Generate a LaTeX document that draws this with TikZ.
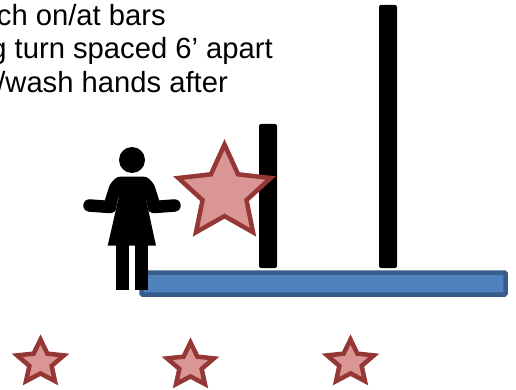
\documentclass[tikz,border=0pt]{standalone}
\usepackage{fontspec}
\setmainfont{Liberation Sans}
\usetikzlibrary{shapes.geometric}
\definecolor{starfill}{HTML}{D99694}
\definecolor{starline}{HTML}{953735}
\definecolor{beamfill}{HTML}{4F81BD}
\definecolor{beamline}{HTML}{385D8A}
\tikzset{
  textline/.style={anchor=base east,inner sep=0pt,font=\fontsize{29.2}{34}\selectfont},
  marker/.style={star,star points=5,star point ratio=2.1,inner sep=0pt,
    draw=starline,fill=starfill,line width=4.5pt},
  bigmarker/.style={marker,minimum size=97pt},
  smallmarker/.style={marker,minimum size=46pt,xscale=1.07,transform shape},
  post/.style={fill=black,rounded corners=2pt},
}

\begin{document}
\begin{tikzpicture}[x=1pt,y=-1pt]
  \useasboundingbox (0,0) rectangle (516,390);
  % text, cut off at the left edge
  \node[textline] (line1) at (166,25.5) {ch on/at bars};
  \node[textline] (line2) at (273,59) {g turn spaced 6’ apart};
  \node[textline] (line3) at (228,93) {/wash hands after};
  % posts and beam
  \fill[post] (259,124) rectangle (277,268);
  \fill[post] (379,5) rectangle (397,268);
  \draw[draw=beamline,fill=beamfill,line width=4.5pt,rounded corners=1pt] (141.5,272.5) rectangle (505.5,294.5);
  % figure
  \fill (132,160) circle (13);
  \fill[rounded corners=3pt] (110,184) -- (117,176.7) -- (147,176.7) -- (154,184)
    -- (161,206) -- (149,213) -- (145,195) -- (145,230) -- (119,230)
    -- (119,195) -- (115,213) -- (103,206) -- cycle;
  \fill (119.3,195) -- (145,195) -- (156,245.7) -- (107.7,245.7) -- cycle;
  \draw[line width=12.5pt,line cap=round] (89.5,205.5) -- (110,207);
  \draw[line width=12.5pt,line cap=round] (174.5,205.5) -- (154,207);
  \fill (116.3,245) rectangle (129,290);
  \fill (135.3,245) rectangle (148,290);
  % stars
  \node[bigmarker] (star0) at (224.5,193) {};
  \node[smallmarker] (star1) at (40.5,362.5) {};
  \node[smallmarker] (star2) at (190.5,365.5) {};
  \node[smallmarker] (star3) at (350.5,362.5) {};
\end{tikzpicture}
\end{document}
